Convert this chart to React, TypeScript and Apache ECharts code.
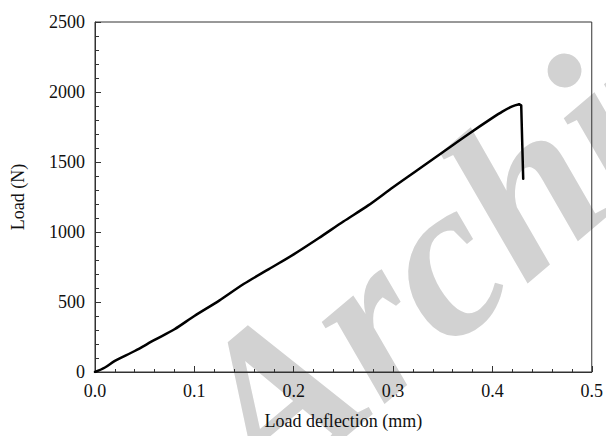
import React, { useEffect, useRef } from "react";
import * as echarts from "echarts";

const deflection = [0, 0.01, 0.02, 0.04, 0.06, 0.08, 0.1, 0.125, 0.15, 0.175, 0.2, 0.225, 0.25, 0.275, 0.3, 0.325, 0.35, 0.375, 0.4, 0.41, 0.42, 0.427, 0.429, 0.431];
const load = [0, 32, 79, 150, 229, 305, 400, 510, 630, 735, 840, 955, 1075, 1190, 1320, 1445, 1570, 1695, 1815, 1860, 1897, 1912, 1905, 1380];
const peakIndex = 21;
const xTitle = "Load deflection (mm)";
const yTitle = "Load (N)";
const watermark = "Archive";

const FONT = '"Liberation Serif", "Times New Roman", serif';

export default function App() {
  const ref = useRef<HTMLDivElement>(null);
  useEffect(() => {
    if (!ref.current) return;
    const chart = echarts.init(ref.current, undefined, { renderer: "svg" });
    const data = deflection.map((d, i) => [d, load[i]]);
    const rising = data.slice(0, peakIndex + 1);
    const drop = data.slice(peakIndex);
    chart.setOption({
      animation: false,
      backgroundColor: "#fff",
      graphic: {
        elements: [
          {
            type: "text",
            z: -10,
            x: 290,
            y: 532,
            rotation: 0.7,
            silent: true,
            style: {
              text: watermark,
              fontFamily: FONT,
              fontStyle: "italic",
              fontWeight: "bold",
              fontSize: 225,
              fill: "#d2d2d2",
              textAlign: "left",
              textVerticalAlign: "bottom",
            },
          },
        ],
      },
      grid: { left: 95, right: 14, top: 22, bottom: 64, show: true, borderColor: "#333", borderWidth: 1, backgroundColor: "transparent", z: 1 },
      xAxis: {
        type: "value",
        min: 0,
        max: 0.5,
        interval: 0.1,
        name: xTitle,
        nameLocation: "middle",
        nameGap: 40,
        nameTextStyle: { fontFamily: FONT, fontSize: 18, color: "#111" },
        axisLine: { lineStyle: { color: "#333", width: 1 } },
        axisTick: { inside: true, length: 6, lineStyle: { color: "#333" } },
        minorTick: { show: true, splitNumber: 5, length: 3, lineStyle: { color: "#333" } },
        splitLine: { show: false },
        axisLabel: { fontFamily: FONT, fontSize: 18, color: "#111", margin: 10, formatter: (v: number) => v.toFixed(1) },
      },
      yAxis: {
        type: "value",
        min: 0,
        max: 2500,
        interval: 500,
        name: yTitle,
        nameLocation: "middle",
        nameGap: 68,
        nameTextStyle: { fontFamily: FONT, fontSize: 18, color: "#111" },
        axisLine: { show: true, lineStyle: { color: "#333", width: 1 } },
        axisTick: { show: true, inside: true, length: 6, lineStyle: { color: "#333" } },
        minorTick: { show: true, splitNumber: 5, length: 4, lineStyle: { color: "#333" } },
        splitLine: { show: false },
        axisLabel: { fontFamily: FONT, fontSize: 18, color: "#111", margin: 10, formatter: (v: number) => String(v) },
      },
      series: [
        {
          type: "line",
          data: rising,
          showSymbol: false,
          smooth: 0.3,
          lineStyle: { color: "#000", width: 2.5, cap: "round", join: "round" },
          z: 5,
        },
        {
          type: "line",
          data: drop,
          showSymbol: false,
          smooth: false,
          lineStyle: { color: "#000", width: 2.5, cap: "round", join: "round" },
          z: 5,
        },
      ],
    });
    return () => chart.dispose();
  }, []);
  return <div ref={ref} style={{ position: "fixed", left: 0, top: 0, width: 606, height: 436 }} />;
}
